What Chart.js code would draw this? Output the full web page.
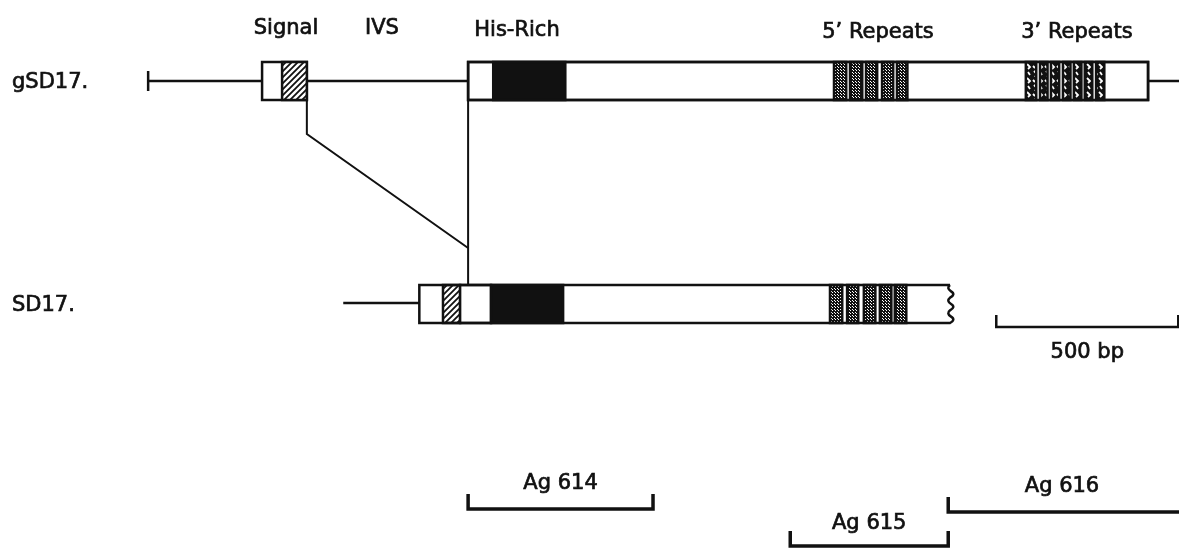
<!DOCTYPE html>
<html><head><meta charset="utf-8">
<script src="https://cdn.jsdelivr.net/npm/chart.js@4"></script>
<style>html,body{margin:0;padding:0;background:#fff;overflow:hidden}canvas{display:block}</style>
</head><body>
<canvas id="c" width="1179" height="548"></canvas>
<script>
// ---------- DATA (positions in base pairs, 0 = 5' end of the genomic clone) ----------
const gSD17Span      = [0, 2832];
const gSD17Exon1     = [313, 436];
const gSD17Signal    = [368, 436];
const gSD17Exon2     = [879, 2747];
const gSD17HisRich   = [948, 1146];
const gSD17Rep5      = [[1882,1920],[1926,1964],[1970,2005],[2014,2049],[2055,2088]];
const gSD17Rep3      = [[2409,2442],[2448,2473],[2478,2505],[2511,2536],[2541,2566],[2571,2596],[2602,2629]];
const SD17Start      = 536;
const SD17Box        = [745, 2203];
const SD17Signal     = [810, 857];
const SD17Split      = [857, 942];
const SD17HisRich    = [942, 1140];
const SD17Rep5       = [[1871,1909],[1918,1953],[1964,2000],[2008,2044],[2049,2085]];
const spliceJunction = [436, 879];
const probeNames     = ['Ag 614', 'Ag 615', 'Ag 616'];
const probeSpans     = [[879, 1387], [1764, 2198], [2198, 2832]];
const scaleBar       = [2330, 2830];
const scaleLabel     = '500 bp';
const rowLabels      = ['gSD17.', 'SD17.'];
const featureLabels  = ['Signal', 'IVS', 'His-Rich', "5\u2019 Repeats", "3\u2019 Repeats"];

// ---------- LAYOUT (pixels, vertical) ----------
const L = {
  gY: 81, gTop: 62, gBot: 100, gTick: 10,
  sY: 303, sTop: 285, sBot: 323,
  kinkY: 134, joinY: 248,
  probeY: [509, 546, 512], probeTick: 15,
  scaleY: 327, scaleTick: 12,
  font: "21px 'DejaVu Sans'",
  ink: '#111', lw: 2.5
};

// ---------- patterns ----------
function mkPattern(w, h, draw) {
  const c = document.createElement('canvas'); c.width = w; c.height = h;
  const g = c.getContext('2d'); draw(g, w, h);
  return document.getElementById('c').getContext('2d').createPattern(c, 'repeat');
}
const hatchPat = mkPattern(6, 6, (g) => {
  g.fillStyle = '#fff'; g.fillRect(0,0,6,6);
  g.strokeStyle = '#111'; g.lineWidth = 1.8;
  g.beginPath(); g.moveTo(-1,7); g.lineTo(7,-1); g.moveTo(-4,4); g.lineTo(4,-4); g.moveTo(2,10); g.lineTo(10,2); g.stroke();
});
const dotPat = mkPattern(3, 3, (g) => {
  g.fillStyle = '#111'; g.fillRect(0,0,3,3);
  g.fillStyle = '#fff'; g.fillRect(1,1,1,1); g.fillRect(0,0,1,1);
});
const blotchPat = mkPattern(12, 14, (g) => {
  g.fillStyle = '#111'; g.fillRect(0,0,12,14);
  g.strokeStyle = '#fff'; g.lineWidth = 1.8;
  g.beginPath();
  g.moveTo(2,1); g.lineTo(5,4); g.lineTo(3,7);
  g.moveTo(8,2); g.lineTo(10,5);
  g.moveTo(7,8); g.lineTo(10,11); g.lineTo(8,13);
  g.moveTo(1,10); g.lineTo(3,12);
  g.stroke();
});

// ---------- line datasets ----------
const pts = (arr) => arr.map(([x, y]) => ({x, y}));
const line = (arr, w) => ({ data: pts(arr), showLine: true, borderColor: L.ink, borderWidth: w || L.lw,
  pointRadius: 0, pointHoverRadius: 0, fill: false, tension: 0 });

const datasets = [
  line([[gSD17Span[0], L.gY], [gSD17Exon1[0], L.gY]]),
  line([[gSD17Span[0], L.gY - L.gTick], [gSD17Span[0], L.gY + L.gTick]]),
  line([[gSD17Exon1[1], L.gY], [gSD17Exon2[0], L.gY]]),
  line([[gSD17Exon2[1], L.gY], [gSD17Span[1], L.gY]]),
  line([[spliceJunction[0], L.gBot], [spliceJunction[0], L.kinkY], [spliceJunction[1], L.joinY]], 2),
  line([[spliceJunction[1], L.gBot], [spliceJunction[1], L.sTop]], 2),
  line([[SD17Start, L.sY], [SD17Box[0], L.sY]]),
  line([[scaleBar[0], L.scaleY - L.scaleTick], [scaleBar[0], L.scaleY], [scaleBar[1], L.scaleY], [scaleBar[1], L.scaleY - L.scaleTick]]),
];
probeSpans.forEach((s, i) => {
  const y = L.probeY[i];
  const arr = [[s[0], y - L.probeTick], [s[0], y], [s[1], y]];
  if (i < 2) arr.push([s[1], y - L.probeTick]);
  datasets.push(line(arr, 3.5));
});

// ---------- box / text plugin ----------
const genePlugin = {
  id: 'gene',
  afterDatasetsDraw(chart) {
    const ctx = chart.ctx, xs = chart.scales.x;
    const px = v => xs.getPixelForValue(v);
    ctx.save();
    ctx.lineWidth = L.lw; ctx.strokeStyle = L.ink; ctx.lineJoin = 'miter';
    const rect = (a, b, top, bot, fill, inset) => {
      const d = inset || 0;
      const x1 = px(a) + d, x2 = px(b) - d;
      ctx.fillStyle = fill; ctx.fillRect(x1, top, x2 - x1, bot - top);
      ctx.strokeRect(x1, top, x2 - x1, bot - top);
    };
    const blocks = (list, top, bot, pat) => {
      const x1 = px(list[0][0]), x2 = px(list[list.length - 1][1]);
      ctx.fillStyle = '#fff'; ctx.fillRect(x1, top, x2 - x1, bot - top);
      list.forEach(([a, b]) => rect(a, b, top, bot, pat, 0.8));
    };

    // gSD17 exon 1
    rect(gSD17Exon1[0], gSD17Exon1[1], L.gTop, L.gBot, '#fff');
    rect(gSD17Signal[0], gSD17Signal[1], L.gTop, L.gBot, hatchPat);
    // gSD17 exon 2
    rect(gSD17Exon2[0], gSD17Exon2[1], L.gTop, L.gBot, '#fff');
    rect(gSD17HisRich[0], gSD17HisRich[1], L.gTop, L.gBot, '#111');
    blocks(gSD17Rep5, L.gTop, L.gBot, dotPat);
    blocks(gSD17Rep3, L.gTop, L.gBot, blotchPat);
    // redraw outer frame of exon 2 so top/bottom edges stay continuous
    ctx.strokeRect(px(gSD17Exon2[0]), L.gTop, px(gSD17Exon2[1]) - px(gSD17Exon2[0]), L.gBot - L.gTop);

    // SD17 cDNA box with wavy (open) right end
    const x0 = px(SD17Box[0]), xe = px(SD17Box[1]);
    ctx.fillStyle = '#fff';
    ctx.fillRect(x0, L.sTop, xe - x0, L.sBot - L.sTop);
    rect(SD17Signal[0], SD17Signal[1], L.sTop, L.sBot, hatchPat);
    rect(SD17Split[0], SD17Split[1], L.sTop, L.sBot, '#fff');
    rect(SD17HisRich[0], SD17HisRich[1], L.sTop, L.sBot, '#111');
    blocks(SD17Rep5, L.sTop, L.sBot, dotPat);
    ctx.beginPath();
    ctx.moveTo(xe, L.sTop); ctx.lineTo(x0, L.sTop); ctx.lineTo(x0, L.sBot); ctx.lineTo(xe, L.sBot);
    const h = (L.sBot - L.sTop) / 3;
    for (let k = 0; k < 3; k++) {
      const yb = L.sBot - k * h;
      ctx.quadraticCurveTo(xe + 6, yb - h * 0.25, xe + 1, yb - h * 0.5);
      ctx.quadraticCurveTo(xe - 4, yb - h * 0.75, xe, yb - h);
    }
    ctx.stroke();

    // text (slightly emboldened to match the heavy original lettering)
    ctx.fillStyle = L.ink; ctx.strokeStyle = L.ink; ctx.lineWidth = 0.7;
    ctx.font = L.font; ctx.textBaseline = 'alphabetic';
    const txt = (t, x, y) => { ctx.fillText(t, x, y); ctx.strokeText(t, x, y); };
    ctx.textAlign = 'left';
    txt(rowLabels[0], 12, 88);
    txt(rowLabels[1], 12, 311);
    ctx.textAlign = 'center';
    const featX = [286, 382, 517, 878, 1077], featY = [34, 34, 36, 38, 38];
    featureLabels.forEach((t, i) => txt(t, featX[i], featY[i]));
    txt(scaleLabel, (px(scaleBar[0]) + px(scaleBar[1])) / 2, 358);
    const probeLabelY = [489, 529, 492];
    probeNames.forEach((t, i) => {
      const s = probeSpans[i];
      const cx = i < 2 ? (px(s[0]) + px(s[1])) / 2 : 1062;
      txt(t, cx, probeLabelY[i]);
    });
    ctx.restore();
  }
};

new Chart(document.getElementById('c'), {
  type: 'scatter',
  data: { datasets },
  options: {
    responsive: false, animation: false, devicePixelRatio: 1,
    layout: { padding: 0 },
    plugins: { legend: { display: false }, tooltip: { enabled: false } },
    events: [],
    scales: {
      x: { type: 'linear', display: false, min: -407, max: 2832 },
      y: { type: 'linear', display: false, min: 0, max: 548, reverse: true }
    }
  },
  plugins: [genePlugin]
});
</script>
</body></html>
